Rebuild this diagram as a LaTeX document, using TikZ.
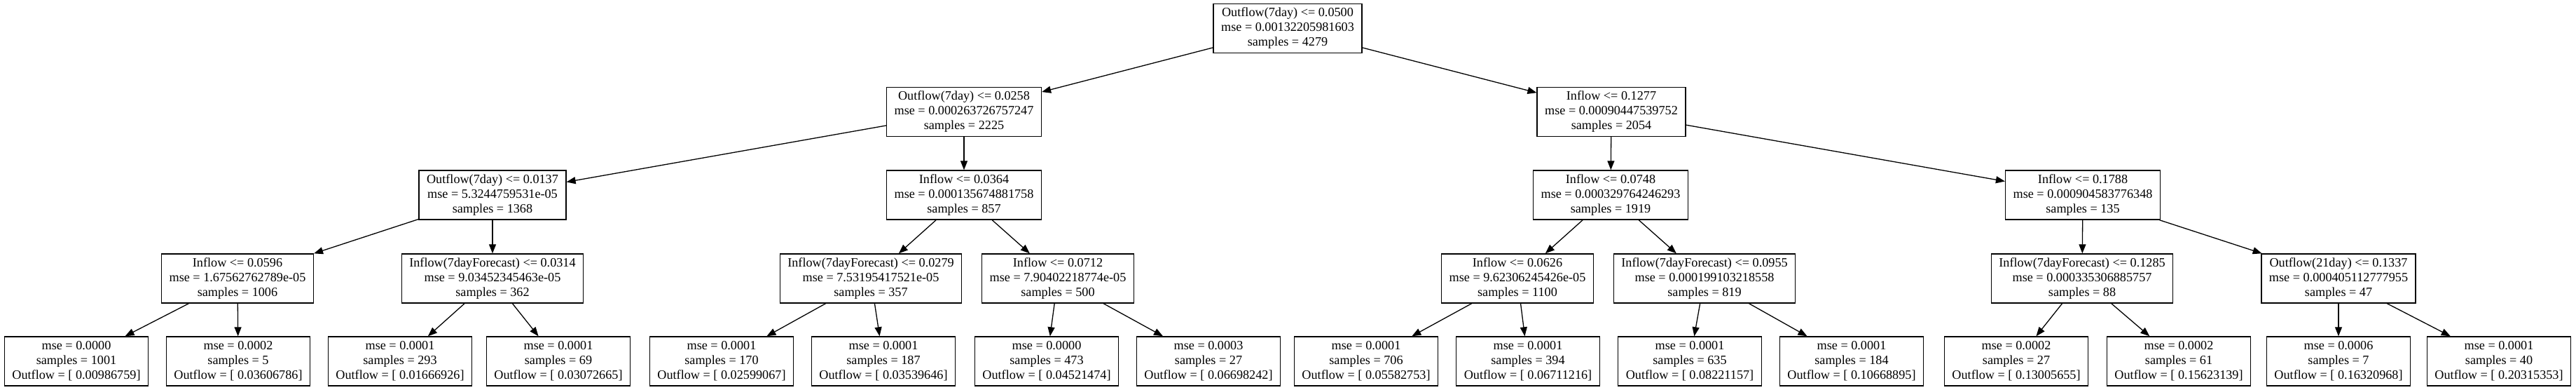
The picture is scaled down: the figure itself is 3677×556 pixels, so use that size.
\documentclass[tikz,border=0pt]{standalone}
\usepackage{fontspec}
\setmainfont{Liberation Serif}
\usetikzlibrary{arrows.meta}
\tikzset{
  tnode/.style={draw=black, line width=1.4pt, rectangle, align=center,
    font=\fontsize{18.2pt}{21pt}\selectfont, inner xsep=11pt, inner ysep=0pt,
    minimum height=70pt},
  edge/.style={line width=1.3pt, -{Triangle[length=13pt,width=10pt]}}
}
\begin{document}
\begin{tikzpicture}[x=1pt,y=-1pt]
\useasboundingbox (0,0) rectangle (3677,556);
% level 0
\node[tnode] (r) at (1838,40.5) {Outflow(7day) <= 0.0500\\mse = 0.00132205981603\\samples = 4279};
% level 1
\node[tnode] (a) at (1376,159.5) {Outflow(7day) <= 0.0258\\mse = 0.000263726757247\\samples = 2225};
\node[tnode] (b) at (2300,159.5) {Inflow <= 0.1277\\mse = 0.00090447539752\\samples = 2054};
% level 2
\node[tnode] (aa) at (703,278) {Outflow(7day) <= 0.0137\\mse = 5.3244759531e-05\\samples = 1368};
\node[tnode] (ab) at (1376,278) {Inflow <= 0.0364\\mse = 0.000135674881758\\samples = 857};
\node[tnode] (ba) at (2299,278) {Inflow <= 0.0748\\mse = 0.000329764246293\\samples = 1919};
\node[tnode] (bb) at (2973,278) {Inflow <= 0.1788\\mse = 0.000904583776348\\samples = 135};
% level 3
\node[tnode] (aaa) at (339,397) {Inflow <= 0.0596\\mse = 1.67562762789e-05\\samples = 1006};
\node[tnode] (aab) at (703,397) {Inflow(7dayForecast) <= 0.0314\\mse = 9.03452345463e-05\\samples = 362};
\node[tnode] (aba) at (1243,397) {Inflow(7dayForecast) <= 0.0279\\mse = 7.53195417521e-05\\samples = 357};
\node[tnode] (abb) at (1510,397) {Inflow <= 0.0712\\mse = 7.90402218774e-05\\samples = 500};
\node[tnode] (baa) at (2166,397) {Inflow <= 0.0626\\mse = 9.62306245426e-05\\samples = 1100};
\node[tnode] (bab) at (2433,397) {Inflow(7dayForecast) <= 0.0955\\mse = 0.000199103218558\\samples = 819};
\node[tnode] (bba) at (2972,397) {Inflow(7dayForecast) <= 0.1285\\mse = 0.000335306885757\\samples = 88};
\node[tnode] (bbb) at (3338,397) {Outflow(21day) <= 0.1337\\mse = 0.000405112777955\\samples = 47};
% leaves
\node[tnode] (l1) at (109,515) {mse = 0.0000\\samples = 1001\\Outflow = [ 0.00986759]};
\node[tnode] (l2) at (340,515) {mse = 0.0002\\samples = 5\\Outflow = [ 0.03606786]};
\node[tnode] (l3) at (571,515) {mse = 0.0001\\samples = 293\\Outflow = [ 0.01666926]};
\node[tnode] (l4) at (797,515) {mse = 0.0001\\samples = 69\\Outflow = [ 0.03072665]};
\node[tnode] (l5) at (1030,515) {mse = 0.0001\\samples = 170\\Outflow = [ 0.02599067]};
\node[tnode] (l6) at (1261,515) {mse = 0.0001\\samples = 187\\Outflow = [ 0.03539646]};
\node[tnode] (l7) at (1494,515) {mse = 0.0000\\samples = 473\\Outflow = [ 0.04521474]};
\node[tnode] (l8) at (1725,515) {mse = 0.0003\\samples = 27\\Outflow = [ 0.06698242]};
\node[tnode] (l9) at (1950,515) {mse = 0.0001\\samples = 706\\Outflow = [ 0.05582753]};
\node[tnode] (l10) at (2181,515) {mse = 0.0001\\samples = 394\\Outflow = [ 0.06711216]};
\node[tnode] (l11) at (2412,515) {mse = 0.0001\\samples = 635\\Outflow = [ 0.08221157]};
\node[tnode] (l12) at (2643,515) {mse = 0.0001\\samples = 184\\Outflow = [ 0.10668895]};
\node[tnode] (l13) at (2878,515) {mse = 0.0002\\samples = 27\\Outflow = [ 0.13005655]};
\node[tnode] (l14) at (3110,515) {mse = 0.0002\\samples = 61\\Outflow = [ 0.15623139]};
\node[tnode] (l15) at (3338,515) {mse = 0.0006\\samples = 7\\Outflow = [ 0.16320968]};
\node[tnode] (l16) at (3567,515) {mse = 0.0001\\samples = 40\\Outflow = [ 0.20315353]};
% edges
\draw[edge] (r) -- (a);
\draw[edge] (r) -- (b);
\draw[edge] (a) -- (aa);
\draw[edge] (a) -- (ab);
\draw[edge] (b) -- (ba);
\draw[edge] (b) -- (bb);
\draw[edge] (aa) -- (aaa);
\draw[edge] (aa) -- (aab);
\draw[edge] (ab) -- (aba);
\draw[edge] (ab) -- (abb);
\draw[edge] (ba) -- (baa);
\draw[edge] (ba) -- (bab);
\draw[edge] (bb) -- (bba);
\draw[edge] (bb) -- (bbb);
\draw[edge] (aaa) -- (l1);
\draw[edge] (aaa) -- (l2);
\draw[edge] (aab) -- (l3);
\draw[edge] (aab) -- (l4);
\draw[edge] (aba) -- (l5);
\draw[edge] (aba) -- (l6);
\draw[edge] (abb) -- (l7);
\draw[edge] (abb) -- (l8);
\draw[edge] (baa) -- (l9);
\draw[edge] (baa) -- (l10);
\draw[edge] (bab) -- (l11);
\draw[edge] (bab) -- (l12);
\draw[edge] (bba) -- (l13);
\draw[edge] (bba) -- (l14);
\draw[edge] (bbb) -- (l15);
\draw[edge] (bbb) -- (l16);
\end{tikzpicture}
\end{document}
